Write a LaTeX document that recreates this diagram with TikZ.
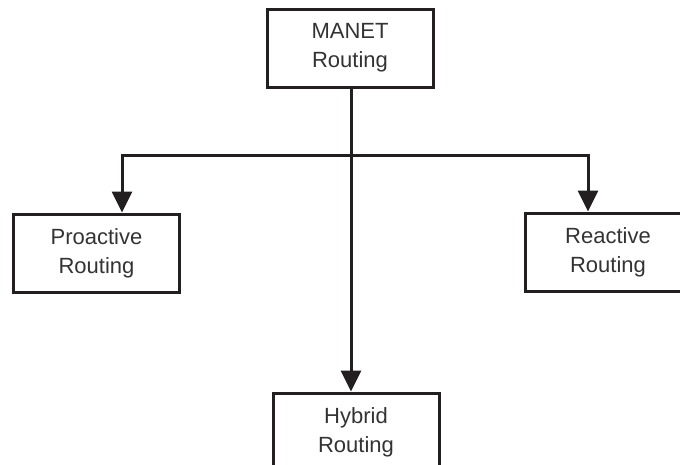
\documentclass[tikz,border=0pt]{standalone}
\usepackage{fontspec}
\setmainfont{Liberation Sans}
\usetikzlibrary{arrows.meta}
\definecolor{ink}{HTML}{231F20}
\definecolor{txt}{HTML}{333333}
\begin{document}
\begin{tikzpicture}[x=1pt,y=-1pt,
  box/.style={draw=ink, line width=3pt, minimum width=166pt, minimum height=78pt,
    inner sep=0pt, align=center, text=txt,
    font=\fontsize{22pt}{29pt}\selectfont},
  conn/.style={draw=ink, line width=3pt},
  arr/.style={conn, -{Triangle[length=21pt,width=20pt]}}]
\useasboundingbox (0,0) rectangle (680,464);
\clip (0,0) rectangle (680,464);
\node[box] (manet) at (350,48) {MANET\\Routing};
\node[box] (pro) at (96.5,253) {Proactive\\Routing};
\node[box] (rea) at (608,252) {Reactive\\Routing};
\node[box] (hyb) at (356,432) {Hybrid\\Routing};
\coordinate (j) at (351,155);
\draw[arr] (manet.south -| j) -- (hyb.north -| j);
\draw[arr] (j) -| ([xshift=25.5pt]pro.north);
\draw[arr] (j) -| ([xshift=-20pt]rea.north);
\end{tikzpicture}
\end{document}
